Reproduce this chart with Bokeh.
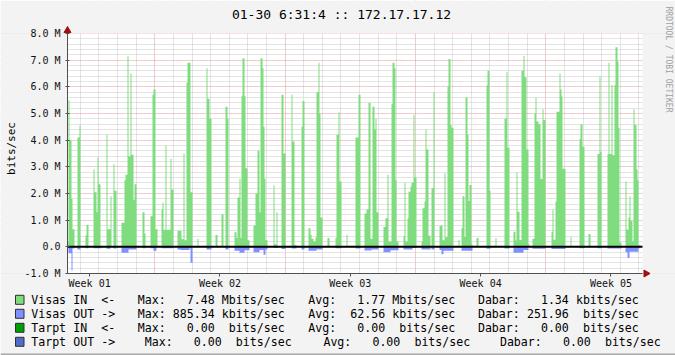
import math
from bokeh.plotting import figure
from bokeh.models import Range1d, FixedTicker
from bokeh.core.properties import value
from bokeh.embed import file_html
from bokeh.resources import INLINE

# ---------------- data ----------------
# time axis: days since Monday 00:00 of "Week 01"; one consolidated RRD step per pixel column
T0_DAYS = 2.311
STEP_DAYS = 7 / 130.33
N_STEPS = 575

week_label_days = [3.5, 10.5, 17.5, 24.5, 31.5]
week_labels = ["Week 01", "Week 02", "Week 03", "Week 04", "Week 05"]
week_start_days = [7, 14, 21, 28]
day_lines = [d for d in range(3, 34) if d not in (7, 14, 21, 28)]

y_ticks = [-1, 0, 1, 2, 3, 4, 5, 6, 7, 8]
y_tick_labels = ["-1.0 M", "0.0", "1.0 M", "2.0 M", "3.0 M", "4.0 M",
                 "5.0 M", "6.0 M", "7.0 M", "8.0 M"]
y_minor = [round(-1 + 0.2 * k, 1) for k in range(46) if (k % 5) != 0]

# Visas IN (Mbits/sec): run start step -> value
in_start = [0, 1, 2, 4, 5, 7, 10, 12, 13, 18, 19, 21, 26, 27, 29, 30, 31, 33, 39, 40,
            43, 44, 46, 47, 49, 54, 57, 58, 60, 61, 63, 64, 66, 67, 69, 75, 77, 78, 83, 85,
            86, 88, 90, 94, 95, 96, 98, 99, 103, 104, 106, 110, 114, 116, 117, 119, 120, 123, 125, 130,
            131, 139, 140, 142, 144, 148, 150, 154, 156, 158, 160, 161, 167, 169, 170, 172, 173, 174, 175, 177,
            178, 180, 182, 186, 188, 190, 192, 193, 195, 196, 197, 198, 200, 206, 207, 209, 210, 214, 216, 218,
            224, 225, 227, 229, 234, 235, 237, 241, 243, 244, 246, 248, 249, 251, 252, 253, 255, 260, 262, 268,
            269, 271, 272, 274, 279, 280, 288, 291, 293, 297, 299, 301, 303, 305, 307, 308, 309, 311, 316, 318,
            320, 321, 324, 325, 327, 328, 329, 331, 336, 337, 338, 340, 341, 343, 344, 346, 347, 349, 354, 355,
            357, 358, 359, 361, 363, 364, 366, 367, 372, 374, 375, 377, 378, 380, 381, 383, 384, 386, 391, 392,
            394, 395, 397, 398, 400, 401, 402, 404, 405, 409, 411, 419, 420, 422, 423, 428, 429, 437, 439, 440,
            442, 446, 448, 449, 450, 452, 454, 456, 457, 459, 461, 462, 465, 467, 468, 469, 471, 473, 475, 476,
            478, 484, 485, 486, 488, 489, 492, 493, 494, 495, 498, 503, 504, 512, 513, 515, 517, 521, 523, 530,
            532, 533, 534, 540, 541, 542, 544, 545, 547, 548, 550, 551, 552, 554, 558, 559, 561, 562, 563, 565,
            566, 567, 569, 570, 571, 573]
in_mbps = [0.2, 5.5, 4.0, 1.8, 0.66, 0, 4.1, 4.55, 0, 0.43, 0.83, 0, 2.9, 2.05, 1.3, 3.35, 2.35, 0, 4.2, 0.66,
           1.9, 0, 3.1, 2.1, 0, 0.9, 2.5, 2.7, 7.15, 3.4, 6.5, 3.45, 1.76, 2.35, 0, 1.3, 0.5, 0, 1.15, 5.7,
           5.9, 0.66, 0, 1.4, 1.65, 0.64, 3.8, 0.64, 3.3, 2.15, 0, 0.6, 0.28, 3.5, 0.25, 6.15, 6.9, 2.05, 0, 0.3,
           0, 6.7, 5.55, 4.8, 0, 0.44, 0, 1.22, 0, 5.25, 4.8, 0, 0.55, 0.33, 1.85, 2.55, 0.33, 5.65, 7.07, 5.65,
           2.95, 0.25, 0, 0.8, 2.0, 3.6, 1.3, 7.07, 6.7, 4.5, 2.55, 0.25, 0, 2.3, 0.1, 1.3, 0, 5.7, 3.5, 0,
           5.7, 3.95, 0.07, 0, 4.5, 5.47, 0, 0.7, 0.44, 0.3, 0.2, 0.35, 5.8, 6.9, 5.0, 1.1, 0, 0.33, 0, 0.33,
           4.2, 5.05, 2.45, 0, 0.45, 0, 4.1, 5.7, 0, 1.25, 1.4, 5.4, 0.3, 5.25, 4.4, 4.8, 1.3, 0, 0.74, 1.07,
           2.7, 0.2, 5.35, 6.9, 6.7, 2.5, 0.2, 0, 0.4, 2.4, 0.2, 1.07, 2.07, 2.26, 2.4, 4.95, 2.6, 0, 0.2, 1.45,
           1.7, 4.4, 3.65, 0.42, 0, 2.2, 5.8, 0, 0.78, 0.82, 0.25, 2.76, 0.36, 6.0, 7.04, 4.57, 4.47, 0, 0.27, 0,
           0.7, 1.9, 0.37, 5.6, 4.2, 1.72, 2.32, 0.1, 0, 0.33, 0, 6.05, 6.6, 2.1, 0, 0.33, 0, 4.8, 6.57, 3.72,
           0, 0.57, 0.24, 2.8, 1.32, 0.26, 6.6, 7.16, 6.36, 3.65, 0.1, 0, 0.3, 5.0, 5.6, 4.7, 4.6, 2.54, 5.16, 4.76,
           0, 0.57, 1.39, 0.27, 1.7, 5.07, 6.5, 5.9, 5.64, 2.93, 0, 0.37, 0, 4.04, 4.6, 3.75, 0, 0.48, 0, 3.48,
           6.4, 3.57, 0, 3.48, 6.9, 3.48, 6.07, 3.43, 6.07, 7.48, 6.95, 4.47, 0.16, 0, 2.45, 0.65, 1.1, 1.9, 0.97, 0.22,
           5.16, 4.57, 2.9, 2.5, 0.07, 0]

# Visas OUT (Mbits/sec, drawn below zero)
out_start = [0, 1, 4, 5, 7, 10, 13, 18, 21, 26, 34, 39, 43, 46, 49, 54, 61, 69, 75, 78,
             83, 86, 89, 94, 106, 110, 113, 122, 123, 125, 139, 144, 158, 161, 167, 172, 177, 182, 186, 192,
             196, 198, 200, 206, 210, 214, 218, 224, 229, 234, 237, 241, 249, 255, 268, 274, 288, 293, 297, 304,
             311, 316, 323, 331, 336, 345, 349, 354, 363, 364, 367, 372, 374, 376, 386, 394, 405, 419, 423, 437,
             442, 446, 456, 461, 465, 478, 484, 498, 512, 517, 530, 534, 540, 554, 558, 560, 562, 571, 573]
out_mbps = [-0.05, -0.24, -0.885, -0.06, 0, -0.1, 0, -0.05, 0, -0.05, 0, -0.07, 0, -0.06, 0, -0.22, -0.1, 0, -0.05, 0,
            -0.05, -0.15, 0, -0.05, 0, -0.1, -0.12, -0.05, -0.6, 0, -0.1, 0, -0.1, 0, -0.15, -0.22, -0.13, 0, -0.2, -0.12,
            -0.3, -0.1, 0, -0.03, 0, -0.08, 0, -0.06, 0, -0.1, 0, -0.15, -0.1, 0, -0.05, 0, -0.06, 0, -0.14, -0.1,
            0, -0.2, -0.13, 0, -0.1, -0.04, 0, -0.1, 0, -0.1, 0, -0.12, -0.28, -0.15, 0, -0.15, 0, -0.07, 0, -0.06,
            0, -0.22, -0.12, 0, -0.07, 0, -0.08, 0, -0.05, 0, -0.05, 0, -0.06, 0, -0.2, -0.42, -0.18, -0.05, 0]

legend_names = ["Visas IN  <-", "Visas OUT ->", "Tarpt IN  <-", "Tarpt OUT ->"]
legend_colors = ["#7FDC7F", "#8090FF", "#00A000", "#4F6DC8"]
legend_max = ["Max:   7.48 Mbits/sec", "Max: 885.34 kbits/sec", "Max:   0.00  bits/sec", "Max:   0.00  bits/sec"]
legend_avg = ["Avg:   1.77 Mbits/sec", "Avg:  62.56 kbits/sec", "Avg:   0.00  bits/sec", "Avg:   0.00  bits/sec"]
legend_cur = ["Dabar:   1.34 kbits/sec", "Dabar: 251.96  bits/sec", "Dabar:   0.00  bits/sec", "Dabar:   0.00  bits/sec"]

title_text = "01-30 6:31:4 :: 172.17.17.12"
unit_text = "bits/sec"
watermark = "RRDTOOL / TOBI OETIKER"

# ---------------- geometry of the image ----------------
MONO = "DejaVu Sans Mono"
BG = "#F3F3F3"
W, H = 675, 355
PL, PR, PT, PB = 67, 642, 33, 273          # plot area in image pixels
Y_LO, Y_HI = -1, 8
X_END = T0_DAYS + N_STEPS * STEP_DAYS
PX_PER_M = (PB - PT) / (Y_HI - Y_LO)
X0 = T0_DAYS - PL * STEP_DAYS                # canvas left edge in days
X1 = X0 + W * STEP_DAYS
Y_TOP = Y_HI + PT / PX_PER_M
Y_BOT = Y_HI - (H - PT) / PX_PER_M


def cx(px):
    return X0 + px * STEP_DAYS


def cy(py):
    return Y_HI - (py - PT) / PX_PER_M


p = figure(width=W, height=H, output_backend="svg", toolbar_location=None, title_location=None,
           x_range=Range1d(X0, X1), y_range=Range1d(Y_BOT, Y_TOP), min_border=0,
           background_fill_color="white", border_fill_color=BG)
p.outline_line_color = None

# grids (restricted to the plot area by the background masks below)
p.xgrid.ticker = FixedTicker(ticks=week_start_days, minor_ticks=day_lines)
p.ygrid.ticker = FixedTicker(ticks=y_ticks, minor_ticks=y_minor)
for g in (p.xgrid, p.ygrid):
    g.grid_line_color = "#E08080"
    g.grid_line_alpha = 0.8
    g.grid_line_dash = "1 1"
    g.minor_grid_line_color = "#C8C8C8"
    g.minor_grid_line_dash = "1 1"

# background outside the plot area (drawn above the grid, below the data)
p.quad(left=[X0, X0, X0, X_END], right=[X1, X1, T0_DAYS, X1],
       top=[Y_TOP, Y_LO, Y_HI, Y_HI], bottom=[Y_HI, Y_BOT, Y_LO, Y_LO],
       fill_color=BG, line_color=None, level="glyph")

# data
xi = [T0_DAYS + s * STEP_DAYS for s in in_start]
p.varea_step(x=xi, y1=[0] * len(xi), y2=in_mbps, step_mode="after", fill_color=legend_colors[0])
xo = [T0_DAYS + s * STEP_DAYS for s in out_start]
p.varea_step(x=xo, y1=[0] * len(xo), y2=out_mbps, step_mode="after", fill_color=legend_colors[1])
p.segment(x0=[T0_DAYS], y0=[0], x1=[X_END], y1=[0], line_color="black", line_width=2)

# axes, drawn at the plot-area edges
xax = p.xaxis[0]
yax = p.yaxis[0]
xax.fixed_location = Y_LO
xax.bounds = (T0_DAYS, X_END)
yax.fixed_location = T0_DAYS
yax.bounds = (Y_LO, Y_HI)
xax.ticker = FixedTicker(ticks=week_label_days)
xax.major_label_overrides = {d: t for d, t in zip(week_label_days, week_labels)}
yax.ticker = FixedTicker(ticks=y_ticks)
yax.major_label_overrides = {v: t for v, t in zip(y_ticks, y_tick_labels)}
for ax in (xax, yax):
    ax.axis_line_color = "#505050"
    ax.major_tick_line_color = "#505050"
    ax.minor_tick_line_color = None
    ax.major_label_text_font = MONO
    ax.major_label_text_font_size = "10px"
    ax.major_label_text_color = "#111111"
xax.major_tick_in = 0
xax.major_tick_out = 3
xax.major_label_standoff = 1
yax.major_tick_in = 2
yax.major_tick_out = 2
yax.major_label_standoff = 5

# arrow heads at the axis ends
p.scatter(x=[T0_DAYS], y=[cy(30)], marker="triangle", size=7, fill_color="#A01010", line_color="#A01010")
p.scatter(x=[cx(645.5)], y=[Y_LO], marker="triangle", angle=-math.pi / 2, size=7,
          fill_color="#A01010", line_color="#A01010")

# title, unit label, watermark
p.text(x=[cx(341)], y=[cy(14)], text=[title_text], text_font=value(MONO), text_font_size=value("13px"),
       text_color="#000000", text_align="center", text_baseline="middle")
p.text(x=[cx(11)], y=[cy(148)], text=[unit_text], angle=math.pi / 2, text_font=value(MONO),
       text_font_size=value("11px"), text_color="#000000", text_align="center", text_baseline="middle")
p.text(x=[cx(668)], y=[cy(6)], text=[watermark], angle=-math.pi / 2, text_font=value(MONO),
       text_font_size=value("8px"), text_color="#A0A0A0", text_align="left", text_baseline="middle")

# legend
PITCH = 7.0
row_y = [299.3, 313.3, 327.3, 341.3]
chunk_x = [[30.7, 137.3, 307.8, 477.4], [30.7, 137.3, 307.8, 477.4],
           [30.7, 137.3, 307.8, 477.4], [30.7, 144.3, 322.9, 499.4]]

tx, ty, tt = [], [], []
for r in range(4):
    for s, x0 in zip([legend_names[r], legend_max[r], legend_avg[r], legend_cur[r]], chunk_x[r]):
        i, n = 0, len(s)
        while i < n:
            if s[i] == " ":
                i += 1
                continue
            j = i
            while j < n and s[j] != " ":
                j += 1
            tx.append(cx(x0 + i * PITCH))
            ty.append(cy(row_y[r]))
            tt.append(s[i:j])
            i = j

p.quad(left=[cx(15)] * 4, right=[cx(23.5)] * 4, top=[cy(y - 4.5) for y in row_y],
       bottom=[cy(y + 4.5) for y in row_y], fill_color=legend_colors, line_color="#303030", line_width=1)
p.text(x=tx, y=ty, text=tt, text_font=value(MONO), text_font_size=value("11.6px"),
       text_color="#000000", text_align="left", text_baseline="middle")

# bottom edge of the image frame
p.quad(left=[X0], right=[X1], top=[cy(H - 2)], bottom=[Y_BOT], fill_color="#A8A8A8", line_color=None)

open("out.html", "w").write(file_html(p, INLINE))
